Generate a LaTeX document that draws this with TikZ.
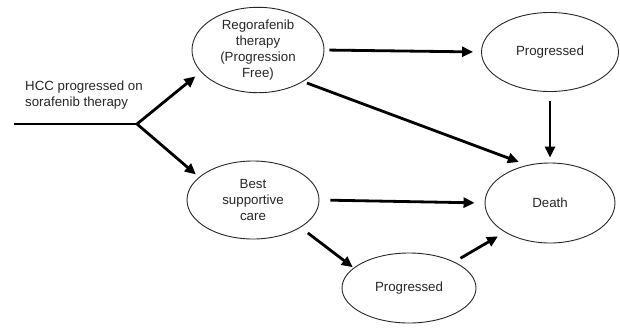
\documentclass[tikz,border=0pt]{standalone}
\usepackage{fontspec}
\setmainfont{Liberation Sans}
\usetikzlibrary{shapes.geometric,arrows.meta}
\begin{document}
\begin{tikzpicture}[x=1pt,y=-1pt,
  state/.style={draw=black!85, line width=0.9pt, ellipse, inner sep=0pt, align=center,
    font=\fontsize{13.3}{16}\selectfont, text=black!85},
  link/.style={line width=2.8pt, -{Triangle[length=11pt,width=10pt]}},
]
\useasboundingbox (0,0) rectangle (620,333);
\node[state, minimum width=132pt, minimum height=80pt] (rego) at (258,50)
  {Regorafenib\\therapy\\(Progression\\Free)};
\node[state, minimum width=137pt, minimum height=79pt] (prog1) at (550,52) {Progressed};
\node[state, minimum width=132pt, minimum height=78pt] (bsc) at (253,200)
  {Best\\supportive\\care};
\node[state, minimum width=130pt, minimum height=80pt] (death) at (550,203) {Death};
\node[state, minimum width=134pt, minimum height=70pt] (prog2) at (409,288) {Progressed};
\node[anchor=west, align=left, inner sep=0pt, font=\fontsize{13.3}{16}\selectfont, text=black!85]
  (hcc) at (25,95) {HCC progressed on\\sorafenib therapy};
\coordinate (start) at (14,124);
\coordinate (branch) at (137,124);
\draw[line width=2.8pt] (start) -- (branch);
\draw[link, shorten >=7pt] (branch) -- (rego.201);
\draw[link, shorten >=4pt] (branch) -- (bsc.157);
\draw[link, shorten <=5pt, shorten >=8pt] (rego.east) -- (prog1.west);
\draw[link, shorten <=4pt, shorten >=9pt] (rego.-35) -- (death.121);
\draw[link, shorten <=9pt, shorten >=5pt] (prog1.south) -- (death.north);
\draw[link, shorten <=11pt, shorten >=10pt] (bsc.east) -- (death.west);
\draw[link, shorten <=9pt, shorten >=1pt] (bsc.-30) -- (prog2.160);
\draw[link, shorten <=7pt, shorten >=8pt] (prog2.30) -- (death.213);
\end{tikzpicture}
\end{document}
